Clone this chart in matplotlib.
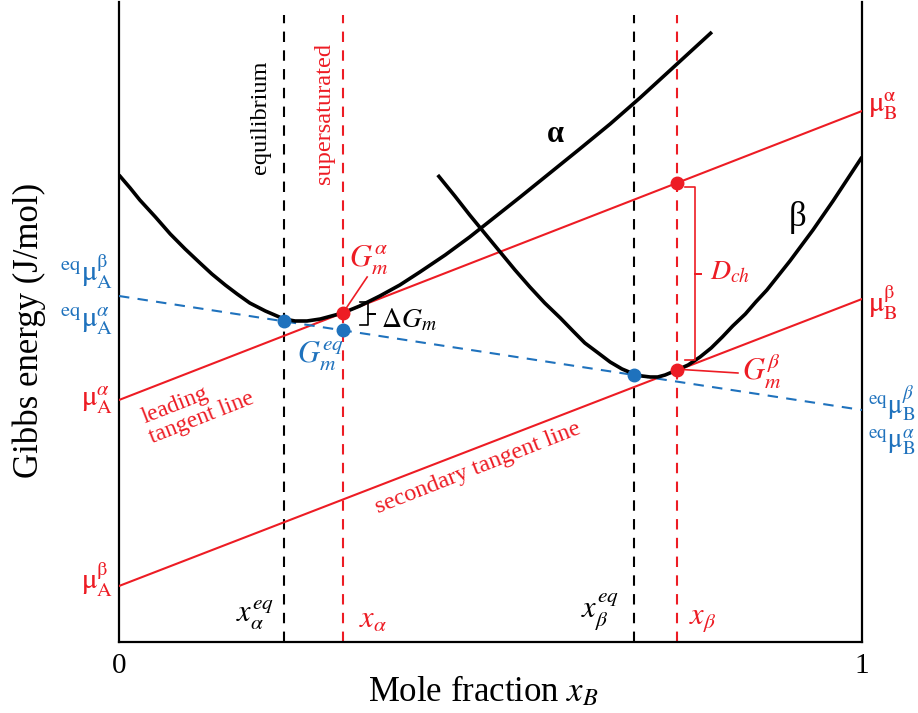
import matplotlib
matplotlib.use('Agg')
import matplotlib.pyplot as plt

plt.rcParams['font.family'] = ['Liberation Serif', 'DejaVu Serif']
plt.rcParams['mathtext.fontset'] = 'stix'

RED = '#ed1c24'
BLUE = '#1f72bd'

# Gibbs energy curves (x_B, G in arbitrary units)
x_alpha_curve = [0.000, 0.015, 0.028, 0.049, 0.069, 0.089, 0.109, 0.125, 0.143, 0.159,
                 0.176, 0.197, 0.222, 0.237, 0.253, 0.271, 0.301, 0.324, 0.351, 0.378,
                 0.405, 0.439, 0.472, 0.506, 0.540, 0.580, 0.620, 0.661, 0.701, 0.751,
                 0.798]
G_alpha_curve = [467, 454, 442, 425, 408, 393, 379, 368, 357, 348,
                 339, 331, 323, 321, 321, 323, 329, 336, 346, 357,
                 370, 387, 405, 425, 445, 469, 493, 518, 544, 578,
                 610]

x_beta_curve = [0.429, 0.452, 0.472, 0.493, 0.513, 0.533, 0.553, 0.573, 0.594, 0.611,
                0.627, 0.645, 0.661, 0.677, 0.693, 0.704, 0.715, 0.725, 0.735, 0.751,
                0.766, 0.782, 0.797, 0.812, 0.826, 0.843, 0.857, 0.872, 0.903, 0.934,
                0.961, 1.000]
G_beta_curve = [467, 446, 427, 408, 390, 372, 355, 339, 324, 311,
                299, 289, 280, 273, 268, 266, 265, 265, 267, 272,
                277, 285, 294, 305, 316, 328, 340, 352, 381, 412,
                441, 485]

# tangent lines, value at x_B = 0 and x_B = 1
lead_tangent = [242, 531]     # mu_A^alpha, mu_B^alpha
second_tangent = [56, 343]    # mu_A^beta, mu_B^beta
eq_tangent = [346, 232]       # eq mu_A, eq mu_B

x_eq = [0.222, 0.693]    # x_alpha^eq, x_beta^eq
x_sat = [0.301, 0.751]   # x_alpha, x_beta


def on_line(line, x):
    return line[0] + (line[1] - line[0]) * x


fig = plt.figure(figsize=(9.18, 7.13), dpi=100)
ax = fig.add_axes([119 / 918, 71 / 713, 743 / 918, 640 / 713])
ax.set_xlim(0, 1)
ax.set_ylim(0, 640)

# straight lines
ax.plot([0, 1], lead_tangent, color=RED, lw=1.5, zorder=3)
ax.plot([0, 1], second_tangent, color=RED, lw=1.5, zorder=3)
ax.plot([0, 1], eq_tangent, color=BLUE, lw=1.5, ls=(0, (5, 4)), zorder=3)

# vertical composition markers
for xv in x_eq:
    ax.plot([xv, xv], [0, 627], color='black', lw=1.5, ls=(0, (5, 4)), zorder=2)
for xv in x_sat:
    ax.plot([xv, xv], [0, 627], color=RED, lw=1.5, ls=(0, (5, 4)), zorder=2)

# free energy curves
ax.plot(x_alpha_curve, G_alpha_curve, color='black', lw=2.6, zorder=4,
        solid_capstyle='butt', solid_joinstyle='round')
ax.plot(x_beta_curve, G_beta_curve, color='black', lw=2.6, zorder=4,
        solid_capstyle='butt', solid_joinstyle='round')

# points
G_a = on_line(lead_tangent, x_sat[0])
G_top = on_line(lead_tangent, x_sat[1])
G_b = on_line(second_tangent, x_sat[1])
G_eq_a = on_line(eq_tangent, x_sat[0])
ax.plot([x_sat[0], x_sat[1], x_sat[1]], [G_a, G_top, G_b], 'o', color=RED, ms=9, zorder=6)
ax.plot([x_eq[0], x_sat[0], x_eq[1]],
        [on_line(eq_tangent, x_eq[0]), G_eq_a, on_line(eq_tangent, x_eq[1])],
        'o', color=BLUE, ms=9, zorder=6)

# Delta G_m bracket
top, bot = G_a + 11, G_eq_a + 5
mid = (top + bot) / 2
xb0, xb1, xb2 = x_sat[0] + 0.023, x_sat[0] + 0.034, x_sat[0] + 0.044
ax.plot([xb0, xb1, xb1, xb2, xb1, xb1, xb0], [top, top, mid, mid, mid, bot, bot],
        color='black', lw=1.2, zorder=5)
ax.text(0.390, 322, r'$\Delta G_m$', fontsize=20, ha='center', va='center')

# D_ch bracket
top, bot = G_top - 4, G_b + 10
mid = (top + bot) / 2
xb0, xb1, xb2 = x_sat[1] + 0.011, x_sat[1] + 0.024, x_sat[1] + 0.032
ax.plot([xb0, xb1, xb1, xb2, xb1, xb1, xb0], [top, top, mid, mid, mid, bot, bot],
        color=RED, lw=1.2, zorder=5)
ax.text(0.823, 369, r'$D_{ch}$', fontsize=20, ha='center', va='center', color=RED)

# point labels
ax.plot([x_sat[0] + 0.004, 0.334], [G_a + 4, 365], color=RED, lw=1.2, zorder=5)
ax.text(0.336, 382, r'$G_m^{\alpha}$', fontsize=22, ha='center', va='center', color=RED)
ax.text(0.271, 286, r'$G_m^{eq}$', fontsize=22, ha='center', va='center', color=BLUE)
ax.plot([x_sat[1] + 0.006, 0.833], [G_b + 1, 269], color=RED, lw=1.2, zorder=5)
ax.text(0.865, 272, r'$G_m^{\beta}$', fontsize=22, ha='center', va='center', color=RED)

ax.text(0.587, 507, 'α', fontsize=22, fontweight='bold', ha='center', va='center')
ax.text(0.914, 425, 'β', fontsize=25, ha='center', va='center')

ax.text(0.191, 525, 'equilibrium', fontsize=17.5, rotation=90, ha='center', va='center')
ax.text(0.276, 528, 'supersaturated', fontsize=17.5, rotation=90, ha='center',
        va='center', color=RED)

ax.text(0.106, 234, 'leading\ntangent line', fontsize=17, rotation=21.5, ha='center',
        va='center', multialignment='left', color=RED, rotation_mode='anchor',
        linespacing=1.0)
ax.text(0.483, 174, 'secondary tangent line', fontsize=17.5, rotation=21.5, ha='center',
        va='center', color=RED, rotation_mode='anchor')

# composition labels at bottom
ax.text(0.183, 27, r'$x_{\alpha}^{eq}$', fontsize=22, ha='center', va='center')
ax.text(0.342, 22, r'$x_{\alpha}$', fontsize=22, ha='center', va='center', color=RED)
ax.text(0.647, 30, r'$x_{\beta}^{eq}$', fontsize=22, ha='center', va='center')
ax.text(0.786, 22, r'$x_{\beta}$', fontsize=22, ha='center', va='center', color=RED)

# chemical potential labels on both sides
left_labels = [(r'$^{\mathrm{eq}}\mathrm{μ}_{\mathrm{A}}^{\mathrm{β}}$', 370, BLUE),
               (r'$^{\mathrm{eq}}\mathrm{μ}_{\mathrm{A}}^{α}$', 321, BLUE),
               (r'$\mathrm{μ}_{\mathrm{A}}^{α}$', 242, RED),
               (r'$\mathrm{μ}_{\mathrm{A}}^{\mathrm{β}}$', 62, RED)]
for s, g, c in left_labels:
    ax.text(-0.008, g, s, fontsize=21, ha='right', va='center', color=c, clip_on=False)

right_labels = [(r'$\mathrm{μ}_{\mathrm{B}}^{\mathrm{α}}$', 536, RED, 21),
                (r'$\mathrm{μ}_{\mathrm{B}}^{\mathrm{β}}$', 339, RED, 21),
                (r'$^{\mathrm{eq}}\mathrm{μ}_{\mathrm{B}}^{β}$', 238, BLUE, 19.5),
                (r'$^{\mathrm{eq}}\mathrm{μ}_{\mathrm{B}}^{α}$', 200, BLUE, 19.5)]
for s, g, c, fs in right_labels:
    ax.text(1.008, g, s, fontsize=fs, ha='left', va='center', color=c, clip_on=False)

# axes styling
ax.spines['top'].set_visible(False)
for side in ['left', 'right', 'bottom']:
    ax.spines[side].set_linewidth(1.6)
ax.set_xticks([0, 1])
ax.set_xticklabels(['0', '1'], fontsize=21)
ax.set_yticks([])
ax.tick_params(axis='x', length=0, pad=8)

ax.set_xlabel(r'Mole fraction $x_B$', fontsize=25)
ax.xaxis.set_label_coords(0.49, -0.050)
ax.set_ylabel('Gibbs energy (J/mol)', fontsize=25)
ax.yaxis.set_label_coords(-0.098, 0.4875)

fig.savefig('out.png', dpi=100)
